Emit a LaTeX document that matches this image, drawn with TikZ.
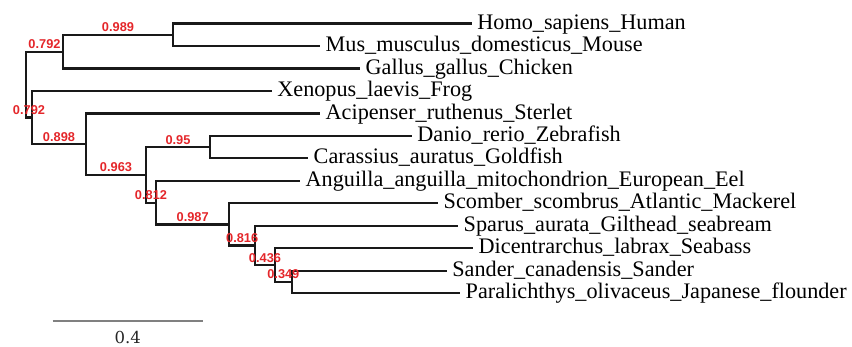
\documentclass[tikz,border=0pt]{standalone}
\usepackage{fontspec}
\setmainfont{Liberation Serif}
\newfontfamily\bsfont{Liberation Sans}
\newfontfamily\scalefont{DejaVu Serif}
\definecolor{bsred}{RGB}{228,38,42}
\definecolor{treecol}{RGB}{25,25,25}
\definecolor{barcol}{RGB}{128,128,128}
\tikzset{
  branch/.style={draw=treecol, line width=2.2pt, line join=miter},
  leaf/.style={anchor=base west, inner xsep=5.5pt, inner ysep=0pt, yshift=-5.6pt,
    font=\fontsize{22.2}{24}\selectfont, text=black},
  bs/.style={anchor=south, inner sep=0pt, yshift=1.8pt, text=bsred,
    font=\bsfont\bfseries\fontsize{12.8}{13}\selectfont},
}
\begin{document}
\begin{tikzpicture}[x=1pt,y=-1pt]
\useasboundingbox (0,0) rectangle (852,346);
% internal nodes
\coordinate (root) at (26,84.6);
\coordinate (ntop) at (63,51.6);
\coordinate (nHM) at (173,34.74);
\coordinate (nlow) at (32,117.55);
\coordinate (n898) at (86,144.16);
\coordinate (n963) at (146,174.9);
\coordinate (n95) at (210,147.14);
\coordinate (n812) at (156,202.63);
\coordinate (n987) at (229.3,224.4);
\coordinate (n816) at (255,245.49);
\coordinate (n436) at (275,265.16);
\coordinate (n349) at (291.7,282.02);
% leaf tips
\coordinate (tHomo) at (471.7,23.5);
\coordinate (tMus) at (320,45.98);
\coordinate (tGal) at (360,68.46);
\coordinate (tXen) at (271.7,90.94);
\coordinate (tAci) at (320,113.42);
\coordinate (tDan) at (411.7,135.9);
\coordinate (tCar) at (308,158.38);
\coordinate (tAng) at (300,180.86);
\coordinate (tSco) at (438,203.34);
\coordinate (tSpa) at (458,225.82);
\coordinate (tDic) at (473,248.3);
\coordinate (tSan) at (446.7,270.78);
\coordinate (tPar) at (460,293.26);
% leaf labels
\node[leaf] (Homo) at (tHomo) {Homo\_sapiens\_Human};
\node[leaf] (Mus) at (tMus) {Mus\_musculus\_domesticus\_Mouse};
\node[leaf] (Gal) at (tGal) {Gallus\_gallus\_Chicken};
\node[leaf] (Xen) at (tXen) {Xenopus\_laevis\_Frog};
\node[leaf] (Aci) at (tAci) {Acipenser\_ruthenus\_Sterlet};
\node[leaf] (Dan) at (tDan) {Danio\_rerio\_Zebrafish};
\node[leaf] (Car) at (tCar) {Carassius\_auratus\_Goldfish};
\node[leaf] (Ang) at (tAng) {Anguilla\_anguilla\_mitochondrion\_European\_Eel};
\node[leaf] (Sco) at (tSco) {Scomber\_scombrus\_Atlantic\_Mackerel};
\node[leaf] (Spa) at (tSpa) {Sparus\_aurata\_Gilthead\_seabream};
\node[leaf] (Dic) at (tDic) {Dicentrarchus\_labrax\_Seabass};
\node[leaf] (San) at (tSan) {Sander\_canadensis\_Sander};
\node[leaf] (Par) at (tPar) {Paralichthys\_olivaceus\_Japanese\_flounder};
% branches
\draw[branch] (nHM) |- (tHomo);
\draw[branch] (nHM) |- (tMus);
\draw[branch] (ntop) |- (tGal);
\draw[branch] (nlow) |- (tXen);
\draw[branch] (n898) |- (tAci);
\draw[branch] (n95) |- (tDan);
\draw[branch] (n95) |- (tCar);
\draw[branch] (n812) |- (tAng);
\draw[branch] (n987) |- (tSco);
\draw[branch] (n816) |- (tSpa);
\draw[branch] (n436) |- (tDic);
\draw[branch] (n349) |- (tSan);
\draw[branch] (n349) |- (tPar);
\draw[branch] (ntop) |- node[bs,pos=0.75]{0.989} (nHM);
\draw[branch] (root) |- node[bs,pos=0.75]{0.792} (ntop);
\draw[branch] (root) |- node[bs,pos=0.75]{0.792} (nlow);
\draw[branch] (nlow) |- node[bs,pos=0.75]{0.898} (n898);
\draw[branch] (n898) |- node[bs,pos=0.75]{0.963} (n963);
\draw[branch] (n963) |- node[bs,pos=0.75]{0.95} (n95);
\draw[branch] (n963) |- node[bs,pos=0.75]{0.812} (n812);
\draw[branch] (n812) |- node[bs,pos=0.75]{0.987} (n987);
\draw[branch] (n987) |- node[bs,pos=0.75]{0.816} (n816);
\draw[branch] (n816) |- node[bs,pos=0.75]{0.436} (n436);
\draw[branch] (n436) |- node[bs,pos=0.75]{0.349} (n349);
% scale bar
\coordinate (s1) at (52.7,320.7);
\coordinate (s2) at (202.7,320.7);
\draw[draw=barcol, line width=2pt] (s1) -- (s2);
\node[font=\scalefont\fontsize{16.5}{18}\selectfont, text=black!85, inner sep=0pt] (scl) at (127.7,337) {0.4};
\end{tikzpicture}
\end{document}
